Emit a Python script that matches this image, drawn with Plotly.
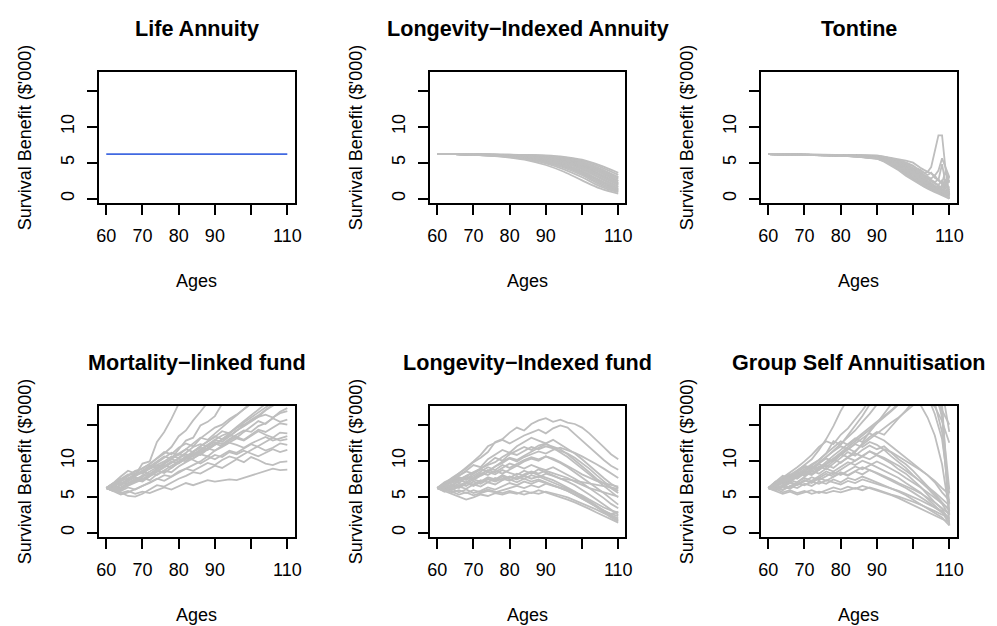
import plotly.graph_objects as go

# ---------------- data ----------------
TITLES = ["Life Annuity", "Longevity\u2212Indexed Annuity", "Tontine",
          "Mortality\u2212linked fund", "Longevity\u2212Indexed fund", "Group Self Annuitisation"]
X_TICKS = [60, 70, 80, 90, 100, 110]
X_TICKTEXT = ["60", "70", "80", "90", "", "110"]
Y_TICKS = [0, 5, 10, 15]
Y_TICKTEXT = ["0", "5", "10", ""]
X_TITLE = "Ages"
Y_TITLE = "Survival Benefit ($'000)"

LA_AGES = [60, 110]
LA_PATHS = [[6.2, 6.2]]

LIA_AGES = [60, 65, 70, 75, 80, 85, 90, 95, 100, 105, 110]
LIA_PATHS = [
    [6.2, 6.19, 6.17, 6.14, 6.11, 6.08, 6.01, 5.82, 5.42, 4.62, 3.6],
    [6.2, 6.19, 6.17, 6.13, 6.10, 6.06, 5.96, 5.74, 5.28, 4.41, 3.3],
    [6.2, 6.19, 6.16, 6.12, 6.08, 6.02, 5.90, 5.64, 5.12, 4.18, 3.0],
    [6.2, 6.19, 6.16, 6.12, 6.07, 6.00, 5.86, 5.58, 5.04, 4.08, 2.9],
    [6.2, 6.19, 6.16, 6.11, 6.05, 5.97, 5.81, 5.50, 4.92, 3.90, 2.7],
    [6.2, 6.19, 6.15, 6.10, 6.03, 5.94, 5.76, 5.42, 4.80, 3.72, 2.5],
    [6.2, 6.19, 6.15, 6.10, 6.02, 5.92, 5.73, 5.37, 4.72, 3.62, 2.4],
    [6.2, 6.18, 6.15, 6.09, 6.00, 5.89, 5.68, 5.28, 4.58, 3.42, 2.2],
    [6.2, 6.18, 6.14, 6.08, 5.99, 5.87, 5.64, 5.22, 4.50, 3.33, 2.1],
    [6.2, 6.18, 6.14, 6.08, 5.98, 5.85, 5.61, 5.17, 4.42, 3.23, 2.0],
    [6.2, 6.18, 6.14, 6.07, 5.97, 5.83, 5.58, 5.11, 4.34, 3.13, 1.9],
    [6.2, 6.18, 6.13, 6.06, 5.95, 5.79, 5.51, 5.00, 4.18, 2.93, 1.7],
    [6.2, 6.18, 6.13, 6.05, 5.93, 5.76, 5.46, 4.93, 4.08, 2.82, 1.6],
    [6.2, 6.18, 6.12, 6.04, 5.90, 5.71, 5.37, 4.78, 3.88, 2.58, 1.4],
    [6.2, 6.18, 6.12, 6.03, 5.88, 5.67, 5.31, 4.69, 3.76, 2.46, 1.3],
    [6.2, 6.18, 6.12, 6.02, 5.86, 5.63, 5.24, 4.58, 3.62, 2.32, 1.2],
    [6.2, 6.18, 6.11, 6.01, 5.83, 5.58, 5.15, 4.44, 3.44, 2.14, 1.1],
    [6.2, 6.18, 6.11, 6.00, 5.81, 5.53, 5.06, 4.30, 3.26, 1.96, 1.0],
    [6.2, 6.18, 6.10, 5.98, 5.77, 5.45, 4.91, 4.08, 2.98, 1.72, 0.9],
    [6.2, 6.18, 6.10, 5.96, 5.72, 5.34, 4.68, 3.74, 2.54, 1.42, 0.7],
]

TON_AGES = [60, 70, 80, 85, 90, 92, 94, 96, 98, 100, 101, 102, 103, 104, 105, 106, 107, 108, 109, 110]
TON_PATHS = [
    [6.2, 6.16, 6.1, 6.05, 5.95, 5.8, 5.6, 5.35, 5.0, 4.5, 4.2, 3.9, 3.6, 3.7, 4.4, 6.6, 8.8, 8.8, 3.9, 2.2],
    [6.2, 6.16, 6.1, 6.05, 6.0, 5.85, 5.7, 5.45, 5.3, 5.0, 4.6, 4.3, 4.0, 3.8, 3.5, 3.2, 3.9, 5.6, 4.2, 3.0],
    [6.2, 6.15, 6.09, 6.02, 5.95, 5.8, 5.6, 5.3, 5.0, 4.6, 4.2, 4.0, 3.6, 3.3, 3.6, 2.9, 2.6, 4.8, 2.0, 1.2],
    [6.2, 6.15, 6.08, 6.0, 5.9, 5.7, 5.5, 5.2, 4.8, 4.3, 4.0, 3.7, 3.3, 3.1, 2.8, 3.2, 2.5, 2.2, 3.9, 0.6],
    [6.2, 6.15, 6.07, 5.99, 5.88, 5.65, 5.4, 5.1, 4.7, 4.2, 3.9, 3.5, 3.2, 2.9, 2.6, 2.3, 2.7, 2.0, 1.6, 3.1],
    [6.2, 6.14, 6.06, 5.97, 5.85, 5.6, 5.35, 5.0, 4.6, 4.1, 3.7, 3.4, 3.1, 2.8, 2.5, 2.2, 1.9, 2.6, 1.5, 0.3],
    [6.2, 6.14, 6.06, 5.96, 5.83, 5.58, 5.3, 4.95, 4.5, 4.0, 3.6, 3.3, 2.95, 2.6, 2.3, 2.0, 1.7, 1.5, 2.7, 0.9],
    [6.2, 6.14, 6.05, 5.95, 5.8, 5.55, 5.25, 4.9, 4.45, 3.9, 3.5, 3.15, 2.8, 2.5, 2.2, 1.8, 1.6, 1.3, 1.0, 0.0],
    [6.2, 6.13, 6.05, 5.94, 5.78, 5.5, 5.2, 4.8, 4.35, 3.8, 3.4, 3.05, 2.7, 2.4, 2.05, 1.75, 1.45, 1.15, 0.85, 0.4],
    [6.2, 6.13, 6.04, 5.93, 5.76, 5.48, 5.15, 4.75, 4.25, 3.7, 3.3, 2.95, 2.6, 2.25, 1.95, 1.65, 1.35, 1.05, 0.75, 1.7],
    [6.2, 6.13, 6.04, 5.92, 5.74, 5.45, 5.1, 4.7, 4.15, 3.6, 3.2, 2.85, 2.5, 2.15, 1.85, 1.55, 1.25, 0.95, 0.65, 0.1],
    [6.2, 6.13, 6.03, 5.91, 5.72, 5.42, 5.05, 4.6, 4.05, 3.5, 3.1, 2.75, 2.4, 2.1, 1.8, 1.45, 1.15, 0.85, 2.2, 0.5],
    [6.2, 6.12, 6.03, 5.9, 5.7, 5.4, 5.0, 4.5, 3.95, 3.4, 3.0, 2.65, 2.3, 2.0, 1.7, 1.4, 1.1, 0.8, 0.5, 0.0],
    [6.2, 6.12, 6.02, 5.88, 5.68, 5.36, 4.95, 4.45, 3.85, 3.3, 2.9, 2.55, 2.2, 1.9, 1.6, 1.3, 1.05, 0.8, 0.6, 0.4],
    [6.2, 6.12, 6.02, 5.87, 5.66, 5.33, 4.9, 4.35, 3.75, 3.15, 2.8, 2.45, 2.1, 1.8, 1.5, 1.2, 1.0, 0.75, 1.6, 2.6],
    [6.2, 6.12, 6.01, 5.86, 5.64, 5.3, 4.85, 4.3, 3.65, 3.05, 2.7, 2.35, 2.0, 1.7, 1.45, 1.15, 0.95, 0.7, 0.5, 0.2],
    [6.2, 6.11, 6.0, 5.85, 5.62, 5.27, 4.8, 4.2, 3.55, 2.95, 2.6, 2.25, 1.9, 1.65, 1.4, 1.1, 0.9, 1.9, 0.9, 0.0],
    [6.2, 6.11, 6.0, 5.84, 5.6, 5.24, 4.75, 4.15, 3.45, 2.85, 2.5, 2.15, 1.85, 1.6, 1.3, 1.05, 0.85, 0.6, 0.4, 1.0],
    [6.2, 6.11, 5.99, 5.82, 5.58, 5.2, 4.7, 4.05, 3.35, 2.7, 2.4, 2.05, 1.75, 1.5, 1.2, 1.0, 0.8, 0.55, 0.35, 0.1],
    [6.2, 6.1, 5.98, 5.8, 5.55, 5.15, 4.6, 3.95, 3.2, 2.55, 2.25, 1.95, 1.65, 1.4, 1.1, 0.9, 0.7, 0.5, 0.3, 0.0],
]

WALK_AGES = list(range(60, 111, 2))

MLF_PATHS = [
    [6.2, 6.8, 7.4, 8.1, 8.0, 9.6, 9.9, 12.6, 14.0, 15.8, 17.9, 19.5, 20.8, 21.5, 22.4, 23.0, 24.1, 25.0, 25.8, 26.5, 27.0, 27.8, 28.5, 29.0, 29.6, 30.0],
    [6.2, 6.6, 7.3, 7.9, 8.6, 8.9, 9.6, 10.4, 11.0, 11.9, 13.4, 14.2, 15.6, 16.8, 18.1, 19.0, 20.2, 21.0, 22.1, 23.0, 23.8, 24.5, 25.0, 25.5, 26.0, 26.6],
    [6.2, 6.0, 6.7, 7.5, 8.1, 8.3, 9.2, 9.9, 10.6, 10.3, 11.5, 12.8, 13.2, 14.9, 15.4, 16.2, 17.9, 19.0, 20.1, 21.0, 22.0, 22.8, 23.5, 24.0, 24.6, 25.0],
    [6.2, 6.9, 7.8, 8.6, 8.2, 9.0, 9.5, 10.4, 11.2, 10.9, 11.8, 12.4, 12.0, 13.1, 13.8, 14.6, 15.0, 15.8, 16.4, 17.2, 17.9, 18.6, 19.4, 20.0, 20.8, 21.5],
    [6.2, 6.4, 6.9, 7.2, 7.9, 8.4, 8.8, 9.3, 9.9, 10.6, 10.4, 11.1, 11.9, 12.3, 12.0, 12.9, 13.5, 13.9, 14.6, 15.0, 15.5, 16.1, 16.4, 16.0, 16.6, 16.9],
    [6.2, 5.8, 6.3, 6.9, 7.3, 7.1, 7.8, 8.4, 9.0, 9.6, 10.3, 9.9, 10.8, 11.4, 12.1, 12.6, 12.3, 13.0, 13.6, 14.2, 14.0, 14.8, 15.2, 15.9, 15.4, 15.7],
    [6.2, 6.7, 7.1, 7.6, 8.0, 8.6, 8.9, 9.3, 9.2, 9.8, 10.4, 10.9, 10.6, 11.2, 11.7, 12.4, 12.0, 12.6, 13.1, 12.8, 13.5, 14.1, 13.6, 13.2, 13.9, 13.8],
    [6.2, 6.3, 6.0, 6.6, 7.1, 7.6, 7.3, 8.1, 8.6, 8.4, 9.2, 9.8, 10.3, 10.9, 10.6, 11.4, 11.9, 12.5, 12.2, 11.8, 12.4, 12.9, 13.3, 12.8, 13.1, 13.4],
    [6.2, 5.7, 5.3, 5.6, 6.1, 6.5, 6.9, 7.4, 8.0, 7.8, 8.5, 8.9, 9.4, 9.9, 10.6, 10.2, 10.8, 11.4, 11.1, 11.7, 12.3, 11.9, 11.4, 11.8, 12.4, 12.2],
    [6.2, 6.5, 7.0, 6.8, 7.4, 7.9, 8.5, 9.1, 9.7, 10.2, 9.9, 10.5, 10.1, 9.6, 10.2, 10.8, 10.5, 11.2, 10.9, 11.4, 11.0, 10.6, 11.1, 11.6, 11.2, 11.5],
    [6.2, 6.0, 5.6, 5.1, 5.0, 5.4, 6.0, 6.6, 6.4, 7.0, 7.5, 7.9, 8.4, 8.2, 8.8, 9.3, 9.0, 9.6, 10.2, 9.8, 10.5, 10.1, 9.6, 9.4, 9.8, 9.9],
    [6.2, 5.9, 5.5, 5.8, 5.4, 5.7, 5.5, 5.9, 6.3, 6.0, 6.4, 6.9, 6.6, 7.0, 7.3, 7.1, 7.2, 7.4, 7.3, 7.6, 7.9, 8.2, 8.6, 8.9, 8.7, 8.75],
    [6.2, 6.8, 7.5, 7.3, 8.0, 8.7, 9.3, 9.0, 9.7, 10.3, 11.0, 11.6, 11.2, 12.0, 12.6, 13.3, 14.1, 13.8, 14.7, 15.5, 16.4, 17.2, 18.0, 18.8, 19.6, 20.3],
    [6.2, 6.5, 6.2, 6.9, 7.5, 7.2, 7.9, 8.5, 9.2, 9.9, 9.6, 10.4, 11.1, 10.8, 11.6, 12.2, 12.9, 13.4, 14.2, 14.8, 15.5, 16.1, 17.0, 17.6, 18.2, 18.9],
    [6.2, 6.0, 6.6, 7.2, 7.7, 7.4, 8.0, 8.8, 9.4, 9.0, 9.8, 10.5, 11.2, 11.8, 11.5, 12.3, 13.0, 13.6, 13.2, 14.0, 14.7, 15.5, 15.1, 16.0, 16.8, 17.3],
    [6.2, 6.4, 6.1, 6.5, 6.9, 7.4, 8.1, 8.6, 8.3, 9.0, 9.7, 10.2, 10.9, 11.5, 12.2, 12.9, 12.6, 13.4, 14.1, 14.9, 15.7, 16.3, 17.1, 17.8, 18.5, 19.2],
    [6.2, 5.8, 6.2, 6.7, 7.1, 7.8, 8.2, 8.0, 8.7, 9.3, 9.9, 10.6, 10.3, 11.0, 11.7, 11.4, 12.1, 12.8, 13.3, 12.9, 13.6, 14.3, 14.0, 14.6, 15.2, 15.0],
    [6.2, 6.6, 7.2, 7.8, 8.5, 8.2, 9.0, 9.7, 10.4, 11.1, 10.8, 11.6, 12.4, 13.2, 12.9, 13.8, 14.6, 15.5, 16.3, 17.2, 18.0, 18.9, 19.5, 20.3, 21.0, 21.6],
    [6.2, 6.1, 5.8, 6.3, 6.0, 6.5, 7.0, 7.5, 7.2, 7.8, 8.3, 8.9, 8.6, 9.2, 9.7, 9.4, 10.1, 10.6, 10.3, 10.9, 11.5, 12.1, 12.6, 13.2, 12.8, 13.0],
    [6.2, 6.9, 6.6, 7.2, 7.9, 8.5, 8.2, 8.9, 9.6, 10.2, 10.9, 10.6, 11.3, 12.0, 12.7, 13.4, 13.0, 13.8, 14.5, 15.3, 16.0, 16.7, 17.5, 18.1, 17.8, 18.4],
]

LIF_PATHS = [
    [6.2, 6.8, 7.6, 8.3, 8.9, 9.8, 10.4, 11.2, 12.6, 13.0, 13.9, 14.6, 14.2, 15.1, 15.6, 15.9, 15.4, 15.7, 15.3, 15.1, 14.6, 13.8, 12.9, 11.9, 10.9, 10.2],
    [6.2, 6.9, 7.4, 8.2, 9.1, 9.9, 10.8, 12.0, 12.5, 12.9, 12.4, 13.0, 13.5, 13.9, 14.3, 13.8, 14.5, 14.9, 14.6, 13.7, 12.8, 11.8, 10.9, 10.1, 9.3, 8.75],
    [6.2, 6.5, 7.3, 7.9, 8.6, 9.4, 9.1, 10.2, 10.8, 11.5, 11.1, 12.0, 12.6, 13.2, 12.8, 12.4, 12.9, 12.3, 11.7, 11.0, 10.2, 9.3, 8.4, 7.6, 6.8, 6.2],
    [6.2, 7.0, 7.5, 7.2, 7.9, 8.4, 8.9, 9.6, 10.4, 10.0, 10.9, 11.4, 11.9, 11.5, 12.1, 12.4, 11.8, 11.2, 10.5, 9.7, 8.9, 8.0, 7.2, 6.4, 5.6, 4.9],
    [6.2, 6.4, 7.1, 7.7, 7.4, 8.2, 8.8, 8.5, 9.2, 9.9, 10.4, 10.1, 10.7, 11.3, 11.8, 12.3, 12.0, 11.6, 10.9, 10.1, 9.2, 8.4, 7.5, 6.8, 6.2, 5.5],
    [6.2, 6.7, 6.4, 7.2, 7.8, 7.5, 8.1, 8.7, 8.4, 9.0, 9.6, 9.3, 9.9, 10.3, 10.0, 10.6, 10.2, 9.7, 9.1, 8.4, 7.7, 7.0, 6.3, 5.5, 4.7, 3.9],
    [6.2, 6.0, 6.6, 7.3, 7.0, 7.7, 8.3, 8.0, 8.6, 8.2, 8.8, 9.3, 8.9, 9.4, 9.0, 8.7, 9.1, 8.6, 8.1, 7.5, 6.9, 6.2, 5.6, 4.8, 4.0, 3.4],
    [6.2, 6.6, 7.2, 6.9, 7.6, 7.3, 7.9, 8.4, 8.1, 8.7, 8.3, 8.0, 8.6, 8.2, 8.8, 8.4, 8.0, 7.6, 7.1, 6.6, 6.0, 5.3, 4.6, 3.9, 3.2, 2.5],
    [6.2, 5.9, 6.5, 6.2, 6.8, 7.4, 7.1, 7.7, 7.4, 8.0, 7.6, 8.2, 7.9, 8.4, 8.0, 7.7, 7.3, 6.8, 6.3, 5.7, 5.1, 4.4, 3.7, 3.0, 2.4, 2.0],
    [6.2, 6.3, 5.9, 6.4, 6.1, 6.7, 6.4, 7.0, 6.7, 7.3, 7.7, 7.4, 7.9, 7.5, 7.8, 7.4, 7.0, 6.6, 6.1, 5.6, 5.0, 4.3, 3.6, 2.8, 2.1, 1.6],
    [6.2, 5.7, 6.1, 5.6, 6.0, 5.5, 5.8, 6.3, 6.0, 6.5, 6.9, 6.6, 7.1, 6.8, 7.2, 6.9, 6.6, 6.2, 5.8, 5.3, 4.8, 4.2, 3.6, 3.1, 2.6, 2.3],
    [6.2, 5.8, 5.3, 5.0, 4.6, 4.9, 5.3, 5.1, 5.5, 5.3, 5.6, 5.4, 5.8, 5.5, 5.9, 5.6, 5.3, 5.0, 4.6, 4.2, 3.8, 3.3, 2.8, 2.3, 1.8, 1.4],
    [6.2, 6.1, 5.7, 5.3, 5.6, 5.2, 5.5, 5.8, 5.6, 5.9, 6.2, 6.5, 6.2, 6.6, 6.3, 6.8, 6.5, 6.3, 6.0, 5.6, 5.2, 4.6, 4.0, 3.5, 3.1, 2.8],
    [6.2, 6.6, 7.0, 7.6, 7.3, 7.9, 8.5, 9.1, 8.7, 9.4, 9.0, 9.6, 10.1, 10.5, 10.2, 10.6, 10.3, 9.8, 9.3, 8.7, 8.1, 7.6, 7.2, 6.9, 6.6, 6.4],
    [6.2, 5.9, 6.3, 6.8, 6.5, 7.1, 6.8, 7.4, 7.1, 7.5, 7.2, 7.8, 7.5, 8.0, 7.7, 8.2, 7.9, 7.5, 7.4, 7.2, 7.0, 6.9, 6.7, 6.5, 6.3, 6.1],
    [6.2, 6.4, 6.1, 6.6, 7.0, 6.7, 7.3, 7.0, 7.6, 7.3, 7.8, 7.5, 8.1, 8.5, 8.2, 8.6, 8.3, 8.0, 7.6, 7.1, 6.6, 6.2, 5.9, 5.6, 5.3, 5.0],
    [6.2, 6.0, 5.6, 5.9, 5.5, 5.9, 5.6, 6.0, 5.7, 5.5, 5.8, 5.6, 5.3, 5.6, 5.4, 5.7, 5.5, 5.2, 4.9, 4.5, 4.1, 3.7, 3.2, 2.7, 2.2, 1.8],
    [6.2, 6.5, 6.9, 7.4, 7.9, 8.3, 8.8, 8.5, 9.2, 9.7, 10.3, 9.9, 10.5, 10.9, 11.3, 11.0, 11.5, 11.8, 11.5, 11.1, 10.6, 10.1, 9.5, 8.9, 8.3, 7.6],
    [6.2, 6.3, 6.7, 6.4, 6.9, 6.5, 7.0, 7.5, 7.2, 7.8, 7.4, 7.0, 7.5, 7.1, 7.4, 7.0, 6.7, 6.3, 5.8, 5.3, 4.7, 4.1, 3.5, 3.0, 2.6, 2.9],
    [6.2, 6.7, 7.3, 7.9, 8.5, 8.2, 8.9, 9.4, 9.8, 10.5, 11.1, 10.8, 11.4, 11.9, 11.6, 12.0, 11.7, 11.4, 11.0, 10.4, 9.7, 8.9, 8.0, 7.1, 6.3, 5.8],
]

GSA_PATHS = [
    [6.2, 7.0, 7.9, 7.5, 8.6, 9.4, 10.2, 11.5, 13.0, 14.8, 16.9, 18.6, 20.5, 22.0, 23.5, 25.0, 26.0, 27.0, 28.0, 28.5, 29.0, 28.5, 27.0, 24.0, 20.0, 14.0],
    [6.2, 6.8, 7.4, 8.1, 7.7, 8.5, 9.2, 10.1, 11.0, 12.7, 12.2, 13.5, 14.8, 16.2, 17.8, 19.2, 20.5, 21.0, 22.0, 21.5, 22.5, 21.0, 19.0, 16.5, 13.0, 5.5],
    [6.2, 6.5, 7.2, 7.0, 7.8, 8.4, 8.1, 9.0, 9.8, 10.7, 11.5, 12.3, 13.1, 12.6, 14.0, 15.2, 16.5, 18.0, 19.2, 20.0, 19.0, 17.8, 16.0, 13.5, 9.5, 3.0],
    [6.2, 7.1, 6.8, 7.6, 8.2, 7.9, 8.8, 9.5, 9.1, 10.0, 10.9, 11.7, 11.2, 12.4, 13.3, 14.0, 13.6, 14.8, 15.9, 17.0, 18.2, 19.0, 18.4, 17.5, 15.5, 12.5],
    [6.2, 6.6, 7.3, 7.9, 8.4, 8.1, 8.9, 9.6, 10.3, 9.9, 10.8, 11.6, 12.3, 11.9, 12.6, 12.2, 11.5, 10.6, 9.8, 9.0, 8.0, 7.1, 6.2, 5.1, 4.0, 2.4],
    [6.2, 6.0, 6.6, 7.3, 7.0, 7.8, 8.5, 9.2, 8.8, 9.6, 10.4, 11.2, 10.7, 11.5, 12.1, 11.6, 12.0, 11.1, 10.2, 9.5, 8.6, 7.5, 6.5, 5.4, 4.2, 3.1],
    [6.2, 6.9, 7.5, 7.2, 7.9, 8.6, 8.2, 8.9, 9.5, 10.2, 9.7, 10.5, 11.0, 10.6, 11.3, 10.8, 10.2, 9.6, 8.8, 8.2, 7.3, 6.4, 5.3, 4.2, 3.3, 1.6],
    [6.2, 6.4, 7.0, 7.6, 8.3, 8.0, 8.6, 8.2, 8.9, 8.5, 9.2, 9.8, 9.4, 10.0, 9.6, 9.1, 8.7, 8.1, 7.6, 6.9, 6.3, 5.6, 4.7, 3.8, 2.9, 1.9],
    [6.2, 5.9, 6.4, 6.1, 6.7, 7.3, 7.0, 7.6, 8.2, 7.8, 8.4, 8.0, 8.6, 9.1, 8.7, 8.2, 7.8, 7.3, 6.7, 6.2, 5.6, 5.0, 4.3, 3.5, 2.8, 1.3],
    [6.2, 6.3, 5.9, 6.5, 6.2, 6.8, 6.5, 7.1, 6.8, 7.4, 7.0, 7.6, 7.3, 7.8, 7.4, 7.0, 6.6, 6.2, 5.7, 5.2, 4.6, 4.0, 3.4, 2.7, 2.1, 1.0],
    [6.2, 5.8, 5.4, 5.7, 5.3, 5.6, 5.9, 5.5, 5.9, 6.3, 6.0, 6.4, 6.1, 6.5, 6.2, 5.9, 5.6, 5.2, 4.8, 4.3, 3.9, 3.4, 2.9, 2.4, 1.9, 1.5],
    [6.2, 6.1, 5.6, 5.9, 5.5, 5.8, 5.4, 5.7, 5.5, 5.8, 5.6, 5.9, 6.2, 5.9, 6.3, 6.0, 5.6, 5.3, 5.0, 4.7, 4.3, 3.9, 3.5, 3.0, 2.5, 2.2],
    [6.2, 6.6, 6.3, 6.9, 6.6, 7.2, 7.7, 7.3, 7.9, 8.4, 8.0, 8.6, 9.2, 8.8, 9.4, 9.9, 9.4, 8.9, 8.3, 7.6, 7.0, 6.3, 5.6, 4.8, 4.0, 3.3],
    [6.2, 6.7, 7.4, 8.0, 8.7, 9.3, 9.0, 9.8, 10.5, 11.3, 12.0, 11.6, 12.4, 13.1, 13.8, 13.3, 12.8, 12.0, 11.2, 10.5, 9.6, 8.8, 8.0, 7.0, 5.6, 4.5],
    [6.2, 5.9, 6.5, 7.0, 6.7, 7.3, 6.9, 7.6, 7.2, 7.8, 8.3, 7.9, 8.5, 8.1, 8.7, 8.3, 7.9, 7.4, 6.9, 6.5, 6.0, 5.5, 4.9, 4.2, 3.4, 2.6],
    [6.2, 6.4, 6.0, 6.5, 6.9, 6.6, 7.1, 6.8, 7.3, 7.0, 6.7, 7.2, 6.9, 7.4, 7.1, 6.8, 6.5, 6.1, 5.8, 5.4, 5.0, 4.5, 4.0, 3.5, 3.0, 2.0],
    [6.2, 6.7, 7.2, 7.8, 7.5, 8.3, 9.0, 8.7, 9.5, 10.3, 11.0, 11.8, 12.6, 13.5, 14.3, 15.2, 16.0, 16.9, 17.8, 18.5, 19.5, 20.5, 21.5, 20.0, 16.0, 6.0],
    [6.2, 6.5, 6.9, 7.4, 8.0, 8.6, 9.2, 8.9, 9.6, 10.2, 10.9, 10.5, 11.4, 12.2, 13.0, 13.8, 14.6, 15.3, 16.0, 16.8, 17.7, 18.8, 20.0, 21.0, 17.0, 1.0],
    [6.2, 6.8, 7.3, 7.9, 7.6, 8.3, 8.0, 8.7, 9.4, 9.0, 9.8, 10.4, 10.0, 10.7, 11.3, 10.9, 11.6, 11.2, 10.6, 10.0, 9.4, 8.7, 8.0, 7.2, 6.2, 5.3],
    [6.2, 6.1, 6.6, 6.3, 7.0, 7.6, 7.2, 7.9, 8.5, 8.1, 8.8, 9.4, 10.0, 10.6, 10.2, 10.8, 10.4, 9.9, 9.3, 8.6, 7.9, 7.1, 6.4, 5.6, 4.7, 3.8],
    [6.2, 6.6, 7.1, 7.7, 8.4, 9.1, 8.8, 9.6, 10.5, 11.4, 12.3, 13.3, 14.2, 15.4, 16.5, 17.8, 19.0, 20.2, 21.0, 22.0, 23.0, 22.0, 20.5, 18.0, 14.0, 4.0],
    [6.2, 6.9, 7.6, 8.4, 9.1, 9.9, 10.8, 11.9, 12.7, 12.3, 13.6, 14.5, 15.7, 17.0, 18.4, 19.5, 20.6, 21.5, 22.0, 22.4, 23.0, 22.0, 20.0, 18.5, 17.0, 15.0],
    [6.2, 6.4, 6.9, 7.5, 8.1, 8.8, 9.5, 10.1, 11.0, 11.8, 12.7, 12.2, 13.0, 13.8, 14.5, 15.3, 16.1, 17.0, 18.0, 19.0, 20.0, 21.0, 22.0, 21.0, 18.0, 2.5],
]

# ---------------- styling / layout ----------------
W, H = 997, 626
FONT = "Liberation Sans, Arial, Helvetica, sans-serif"
GREY = "#BEBEBE"
BLUE = "#4169E1"
COL_LEFT = [97.0, 431.3, 765.7]
BOX_W = 197.5
ROW_TOP = [72.0, 406.0]
BOX_H = 131.0
X_RANGE = [58, 112]
Y_RANGE = [-0.6, 17.6]
LINE_W = 1.8

panels = [
    (LA_AGES, LA_PATHS, BLUE, "linear"),
    (LIA_AGES, LIA_PATHS, GREY, "spline"),
    (TON_AGES, TON_PATHS, GREY, "linear"),
    (WALK_AGES, MLF_PATHS, GREY, "linear"),
    (WALK_AGES, LIF_PATHS, GREY, "linear"),
    (WALK_AGES, GSA_PATHS, GREY, "linear"),
]

fig = go.Figure()
annotations = []
layout = {}
for i, (ages, paths, color, shape) in enumerate(panels):
    r, c = divmod(i, 3)
    k = "" if i == 0 else str(i + 1)
    x0 = COL_LEFT[c]
    y0 = ROW_TOP[r]
    xd = [x0 / W, (x0 + BOX_W) / W]
    yd = [1 - (y0 + BOX_H) / H, 1 - y0 / H]
    for p in paths:
        fig.add_trace(go.Scatter(x=ages, y=p, mode="lines",
                                 line=dict(color=color, width=LINE_W, shape=shape),
                                 hoverinfo="skip", showlegend=False,
                                 xaxis="x" + k, yaxis="y" + k))
    common = dict(showline=True, mirror=True, linecolor="black", linewidth=1.5,
                  ticks="outside", ticklen=10, tickwidth=1.5, tickcolor="black",
                  showgrid=False, zeroline=False, fixedrange=True,
                  tickfont=dict(family=FONT, size=18, color="black"))
    layout["xaxis" + k] = dict(domain=xd, range=X_RANGE, anchor="y" + k,
                               tickmode="array", tickvals=X_TICKS, ticktext=X_TICKTEXT,
                               ticklabelstandoff=6, **common)
    layout["yaxis" + k] = dict(domain=yd, range=Y_RANGE, anchor="x" + k,
                               tickmode="array", tickvals=Y_TICKS, ticktext=Y_TICKTEXT,
                               tickangle=-90, ticklabelstandoff=6, **common)
    cx = (x0 + BOX_W / 2) / W
    annotations.append(dict(text="<b>" + TITLES[i] + "</b>", x=cx, y=1 - (y0 - 44) / H,
                            xref="paper", yref="paper", showarrow=False,
                            xanchor="center", yanchor="middle",
                            font=dict(family=FONT, size=21.6, color="black")))
    annotations.append(dict(text=X_TITLE, x=cx, y=1 - (y0 + 209) / H,
                            xref="paper", yref="paper", showarrow=False,
                            xanchor="center", yanchor="middle",
                            font=dict(family=FONT, size=18, color="black")))
    annotations.append(dict(text=Y_TITLE, x=(x0 - 75) / W, y=1 - (y0 + BOX_H / 2) / H,
                            xref="paper", yref="paper", showarrow=False, textangle=-90,
                            xanchor="center", yanchor="middle",
                            font=dict(family=FONT, size=18, color="black")))

fig.update_layout(width=W, height=H, margin=dict(l=0, r=0, t=0, b=0),
                  paper_bgcolor="white", plot_bgcolor="white",
                  annotations=annotations, **layout)
fig.write_html("out.html")
